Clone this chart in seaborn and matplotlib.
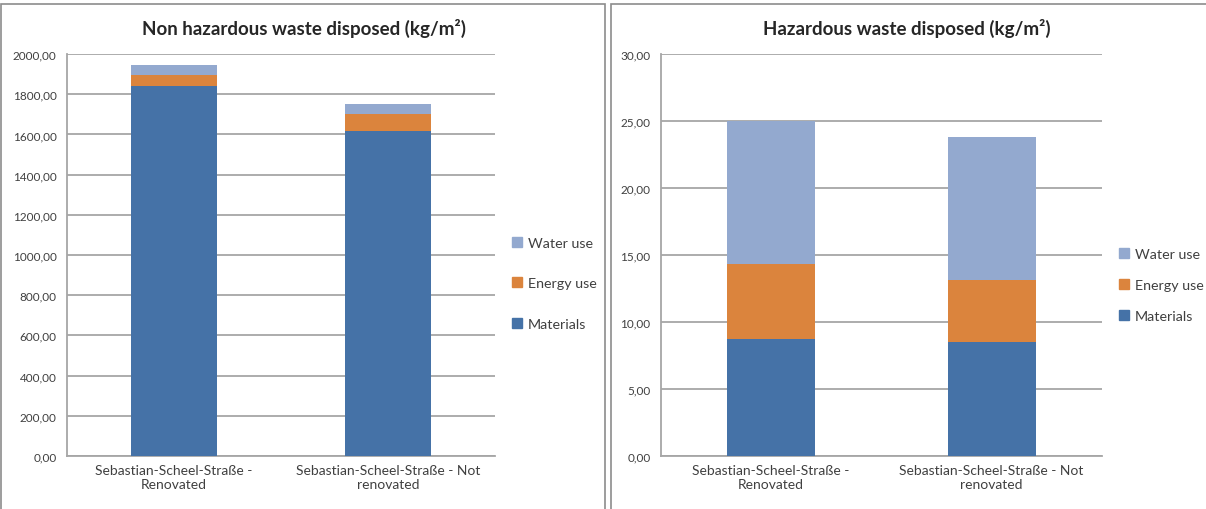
import numpy as np
import pandas as pd
import matplotlib.pyplot as plt
import seaborn as sns
from matplotlib.patches import Rectangle, Patch
from matplotlib.ticker import FuncFormatter, FixedLocator

# data
buildings = ["Sebastian-Scheel-Straße -\nRenovated", "Sebastian-Scheel-Straße - Not\nrenovated"]
series = ["Materials", "Energy use", "Water use"]
colors = ["#4572A7", "#DB843D", "#93A9CF"]

nonhaz_materials = [1840, 1615]
nonhaz_energy = [57, 87]
nonhaz_water = [50, 48]

haz_materials = [8.73, 8.54]
haz_energy = [5.57, 4.59]
haz_water = [10.70, 10.67]


def comma_fmt(v, pos):
    return f"{v:.2f}".replace(".", ",")


def stacked(ax, mat, en, wat, ymax, step):
    df = pd.DataFrame({"building": buildings, "Materials": mat,
                       "Energy use": en, "Water use": wat})
    df["c1"] = df["Materials"]
    df["c2"] = df["c1"] + df["Energy use"]
    df["c3"] = df["c2"] + df["Water use"]
    # draw from top of stack down so each segment shows
    for col, c in zip(["c3", "c2", "c1"], colors[::-1]):
        sns.barplot(data=df, x="building", y=col, color=c, width=0.4,
                    saturation=1, ax=ax, zorder=3, edgecolor="none")
    ax.set_xlim(-0.5, 1.5)
    ax.set_ylim(0, ymax)
    ax.set_yticks(np.arange(0, ymax + step / 2, step))
    ax.yaxis.set_major_formatter(FuncFormatter(comma_fmt))
    ax.grid(axis="y", color="#A6A6A6", lw=1.3, zorder=0)
    ax.grid(axis="x", visible=False)
    ax.set_axisbelow(True)
    for s in ["top", "right"]:
        ax.spines[s].set_visible(False)
    for s in ["left", "bottom"]:
        ax.spines[s].set_color("#A6A6A6")
        ax.spines[s].set_linewidth(1.3)
    ax.tick_params(axis="y", length=4, color="#A6A6A6", labelsize=8.5, labelcolor="#404040")
    ax.tick_params(axis="x", length=0, labelsize=10, labelcolor="#404040", pad=6)
    ax.xaxis.set_minor_locator(FixedLocator([-0.5, 0.5, 1.5]))
    ax.tick_params(axis="x", which="minor", length=5, color="#A6A6A6", width=1.3)
    ax.set_xlabel("")
    ax.set_ylabel("")
    handles = [Patch(color=c, label=l) for c, l in zip(colors[::-1], series[::-1])]
    return handles


sns.set_theme(style="white")
plt.rcParams["font.family"] = ["Lato", "DejaVu Sans"]

fig = plt.figure(figsize=(12.06, 5.10), dpi=100)
ax1 = fig.add_axes([0.0556, 0.104, 0.355, 0.788])
ax2 = fig.add_axes([0.548, 0.104, 0.3657, 0.788])

h = stacked(ax1, nonhaz_materials, nonhaz_energy, nonhaz_water, 2000, 200)
ax1.legend(handles=h, loc="center left", bbox_to_anchor=(1.01, 0.43), frameon=False,
           fontsize=10.3, handlelength=0.7, handleheight=0.7, handletextpad=0.4,
           labelspacing=2.0, labelcolor="#404040")

h = stacked(ax2, haz_materials, haz_energy, haz_water, 30, 5)
ax2.legend(handles=h, loc="center left", bbox_to_anchor=(1.01, 0.425), frameon=False,
           fontsize=10.3, handlelength=0.7, handleheight=0.7, handletextpad=0.4,
           labelspacing=1.35, labelcolor="#404040")

# titles centred on each chart panel
fig.text(0.252, 0.945, "Non hazardous waste disposed (kg/m²)", ha="center", va="center",
         fontsize=13.5, fontweight="bold")
fig.text(0.752, 0.945, "Hazardous waste disposed (kg/m²)", ha="center", va="center",
         fontsize=13.5, fontweight="bold")

# panel borders
fig.add_artist(Rectangle((0.001, -0.01), 0.501, 1.0, transform=fig.transFigure,
                         fill=False, edgecolor="#8C8C8C", lw=1.2))
fig.add_artist(Rectangle((0.507, -0.01), 0.5, 1.0, transform=fig.transFigure,
                         fill=False, edgecolor="#8C8C8C", lw=1.2))

fig.savefig("out.png", dpi=100)
